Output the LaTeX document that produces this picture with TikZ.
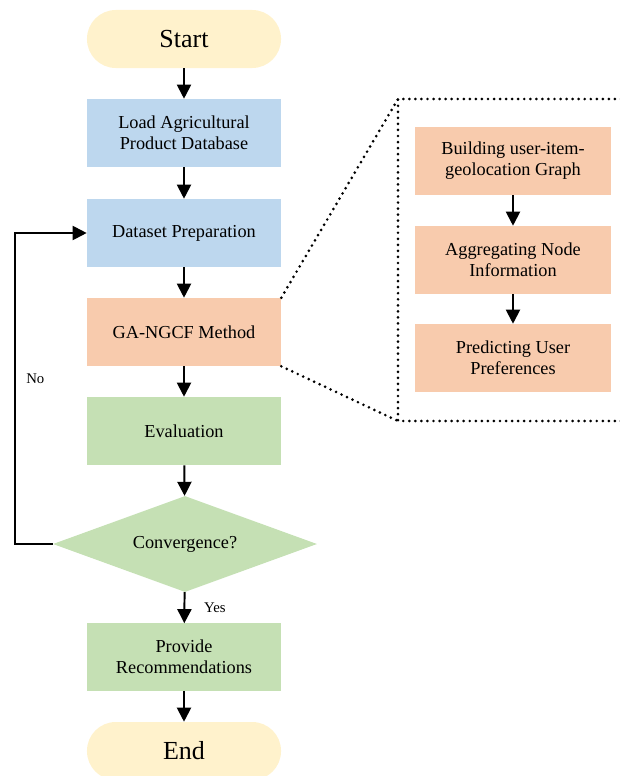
\documentclass[tikz,border=0pt]{standalone}
\usepackage{fontspec}
\setmainfont{Liberation Serif}
\usetikzlibrary{arrows.meta, positioning, shapes.geometric}

\definecolor{pillyellow}{HTML}{FFF2CC}
\definecolor{boxblue}{HTML}{BDD7EE}
\definecolor{boxorange}{HTML}{F8CBAD}
\definecolor{boxgreen}{HTML}{C5E0B4}

\tikzset{
	startstop/.style = {fill=pillyellow, minimum width=4.85cm, minimum height=1.45cm, rounded corners=0.72cm, font=\fontsize{18.5}{21}\selectfont},
	process/.style = {minimum width=4.85cm, minimum height=1.7cm, align=center, font=\fontsize{13}{15}\selectfont},
	decision/.style = {diamond, fill=boxgreen, minimum width=6.6cm, minimum height=2.4cm, aspect=2.75, inner sep=0pt, font=\fontsize{13}{15}\selectfont},
	arr/.style = {line width=1.4pt, -{Triangle[width=10pt,length=10pt]}},
	zoomline/.style = {line width=2.1pt, line cap=round, dash pattern=on 0pt off 4.3pt},
	small/.style = {font=\fontsize{10.5}{12}\selectfont}
}

\begin{document}
\begin{tikzpicture}[x=0.025cm, y=-0.025cm]
	\useasboundingbox (0,0) rectangle (619,776);
	% main column
	\node [startstop] (start) at (184,39) {Start};
	\node [process, fill=boxblue] (load) at (184,133) {Load Agricultural\\Product Database};
	\node [process, fill=boxblue] (prep) at (184,233) {Dataset Preparation};
	\node [process, fill=boxorange] (method) at (184,332) {GA-NGCF Method};
	\node [process, fill=boxgreen] (eval) at (184,431) {Evaluation};
	\node [decision] (conv) at (185,544) {Convergence?};
	\node [process, fill=boxgreen, minimum height=1.675cm] (rec) at (184,657) {Provide\\Recommendations};
	\node [startstop] (end) at (184,751) {End};
	% zoomed-in part of the method
	\node [process, fill=boxorange, minimum width=4.875cm] (graph) at (513,161) {Building user-item-\\geolocation Graph};
	\node [process, fill=boxorange, minimum width=4.875cm] (aggr) at (513,260) {Aggregating Node\\Information};
	\node [process, fill=boxorange, minimum width=4.875cm] (pred) at (513,358) {Predicting User\\Preferences};
	\coordinate (zt) at (398,99);
	\coordinate (zb) at (398,421);
	\draw [zoomline] (621,99) -- (zt) -- (zb) -- (621,421);
	\draw [zoomline] (method.north east) -- (zt);
	\draw [zoomline] (method.south east) -- (zb);

	\draw [arr] (start) -- (load);
	\draw [arr] (load) -- (prep);
	\draw [arr] (prep) -- (method);
	\draw [arr] (method) -- (eval);
	\draw [arr] (eval) -- (conv);
	\draw [arr] (conv) -- node [small, right=10pt] {Yes} (rec);
	\draw [arr] (rec) -- (end);
	\draw [arr] (graph) -- (aggr);
	\draw [arr] (aggr) -- (pred);
	\draw [arr] (conv.west) -- (15,544) -- node [small, right=4pt, pos=0.53] {No} (15,233) -- (prep.west);
\end{tikzpicture}
\end{document}
